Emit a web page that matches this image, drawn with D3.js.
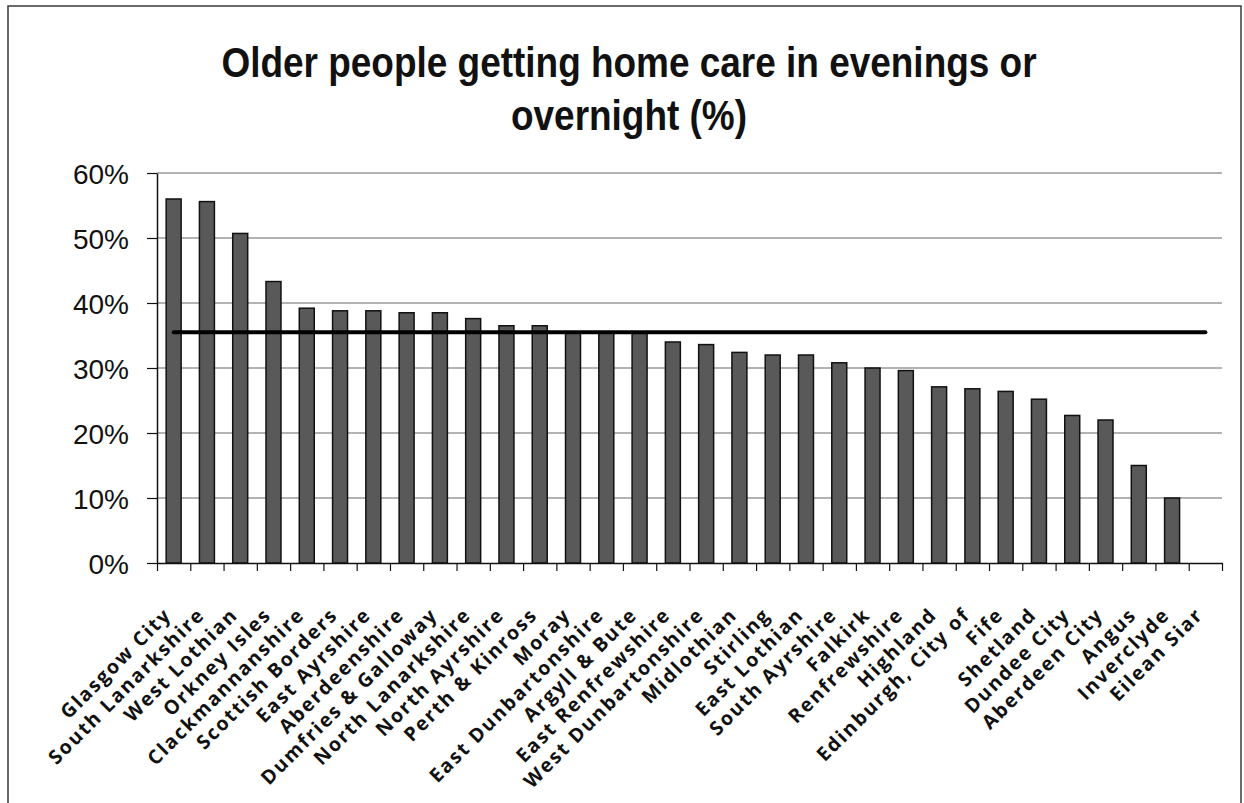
<!DOCTYPE html>
<html>
<head>
<meta charset="utf-8">
<script src="https://cdn.jsdelivr.net/npm/d3@7"></script>
<style>
  html, body { margin: 0; padding: 0; background: #fff; }
  svg { display: block; }
</style>
</head>
<body>
<svg id="chart" width="1244" height="803"></svg>
<script>
// Council areas, sorted by share of older home-care clients served in evenings / overnight
const categories = [
  "Glasgow City", "South Lanarkshire", "West Lothian", "Orkney Isles",
  "Clackmannanshire", "Scottish Borders", "East Ayrshire", "Aberdeenshire",
  "Dumfries & Galloway", "North Lanarkshire", "North Ayrshire", "Perth & Kinross",
  "Moray", "East Dunbartonshire", "Argyll & Bute", "East Renfrewshire",
  "West Dunbartonshire", "Midlothian", "Stirling", "East Lothian",
  "South Ayrshire", "Falkirk", "Renfrewshire", "Highland",
  "Edinburgh, City of", "Fife", "Shetland", "Dundee City",
  "Aberdeen City", "Angus", "Inverclyde", "Eilean Siar"
];

// Percentage per area (Eilean Siar has no figure)
const values = [
  56.0, 55.6, 50.7, 43.3,
  39.2, 38.8, 38.8, 38.5,
  38.5, 37.6, 36.5, 36.5,
  35.4, 35.4, 35.4, 34.0,
  33.6, 32.4, 32.0, 32.0,
  30.8, 30.0, 29.6, 27.1,
  26.8, 26.4, 25.2, 22.7,
  22.0, 15.0, 10.0, null
];

// Scotland-wide average, drawn as a flat line across all areas
const averageValue = 35.5;

const yTicks = [0, 10, 20, 30, 40, 50, 60];
const titleLines = ["Older people getting home care in evenings or", "overnight (%)"];

const svg = d3.select("#chart");

const plot = { left: 157, right: 1222, top: 173, bottom: 563 };

const y = d3.scaleLinear().domain([0, 60]).range([plot.bottom, plot.top]);
const x = d3.scaleBand()
  .domain(categories)
  .range([plot.left, plot.right])
  .paddingInner(0.55)
  .paddingOuter(0.275);
const xEdge = d3.scaleLinear().domain([0, categories.length]).range([plot.left, plot.right]);

// outer frame of the chart area
svg.append("rect")
  .attr("x", 8).attr("y", 6)
  .attr("width", 1233).attr("height", 830)
  .attr("fill", "none")
  .attr("stroke", "#3a3a3a")
  .attr("stroke-width", 1.5);

// title (condensed bold sans)
const title = svg.append("g")
  .attr("transform", "translate(629,0) scale(0.88,1)");
title.selectAll("text")
  .data(titleLines)
  .join("text")
  .attr("x", 0)
  .attr("y", (d, i) => 77 + i * 53)
  .attr("text-anchor", "middle")
  .attr("font-family", "'Liberation Sans', Arial, sans-serif")
  .attr("font-weight", "bold")
  .attr("font-size", 42)
  .attr("fill", "#111")
  .text(d => d);

// horizontal gridlines
svg.append("g")
  .selectAll("line")
  .data(yTicks.filter(t => t > 0))
  .join("line")
  .attr("x1", plot.left).attr("x2", plot.right)
  .attr("y1", d => y(d)).attr("y2", d => y(d))
  .attr("stroke", "#9a9a9a")
  .attr("stroke-width", 1.5);

// y axis
const yAxis = svg.append("g")
  .attr("transform", `translate(${plot.left},0)`)
  .call(d3.axisLeft(y)
    .tickValues(yTicks)
    .tickFormat(d => d + "%")
    .tickSize(10)
    .tickPadding(18)
    .tickSizeOuter(0));
yAxis.select(".domain").attr("stroke", "#111").attr("stroke-width", 1.5);
yAxis.selectAll(".tick line").attr("stroke", "#111").attr("stroke-width", 1.2);
yAxis.selectAll(".tick text")
  .attr("font-family", "'Liberation Sans', Arial, sans-serif")
  .attr("font-size", 28)
  .attr("fill", "#111")
  .attr("dy", "0.36em");

// bars
const rows = categories.map((c, i) => ({ name: c, value: values[i] }));
svg.append("g")
  .selectAll("rect")
  .data(rows.filter(d => d.value != null))
  .join("rect")
  .attr("x", d => x(d.name))
  .attr("width", x.bandwidth())
  .attr("y", d => y(d.value))
  .attr("height", d => y(0) - y(d.value))
  .attr("fill", "#595959")
  .attr("stroke", "#111")
  .attr("stroke-width", 1.5);

// x axis with ticks between categories
const xAxis = svg.append("g")
  .attr("transform", `translate(0,${plot.bottom})`)
  .call(d3.axisBottom(xEdge)
    .tickValues(d3.range(categories.length + 1))
    .tickFormat("")
    .tickSize(8)
    .tickSizeOuter(0));
xAxis.select(".domain").attr("stroke", "#111").attr("stroke-width", 1.5);
xAxis.selectAll(".tick line").attr("stroke", "#111").attr("stroke-width", 1.2);

// rotated category labels
svg.append("g")
  .selectAll("text")
  .data(categories)
  .join("text")
  .attr("transform", d => `translate(${x(d) + x.bandwidth() / 2 - 1},${plot.bottom + 53}) rotate(-45)`)
  .attr("text-anchor", "end")
  .attr("font-family", "'Open Sans', 'Noto Sans', sans-serif")
  .attr("font-weight", 700)
  .attr("font-size", 19.5)
  .attr("letter-spacing", 1.9)
  .attr("fill", "#111")
  .text(d => d);

// average line
const avgLine = d3.line()
  .x(d => x(d) + x.bandwidth() / 2)
  .y(() => y(averageValue));
svg.append("path")
  .datum(categories)
  .attr("d", avgLine)
  .attr("fill", "none")
  .attr("stroke", "#000")
  .attr("stroke-width", 4)
  .attr("stroke-linecap", "round");
</script>
</body>
</html>
